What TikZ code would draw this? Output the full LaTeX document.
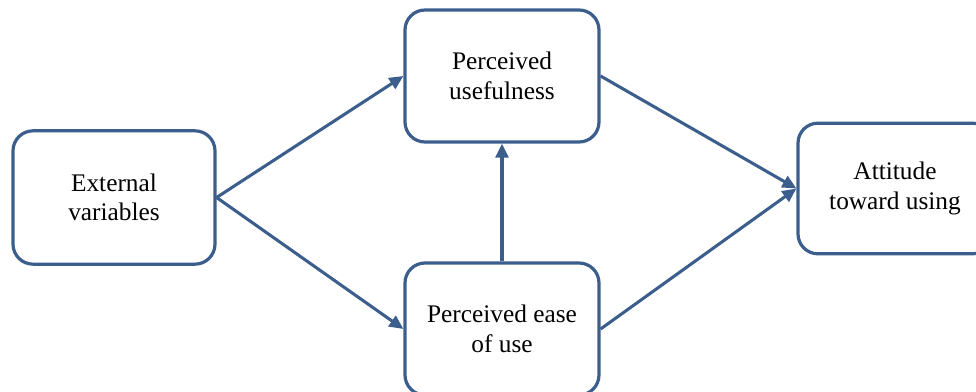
\documentclass[tikz,border=0pt]{standalone}
\usepackage{fontspec}
\setmainfont{Liberation Serif}
\usetikzlibrary{arrows.meta}
\definecolor{tamblue}{RGB}{59,94,140}
\begin{document}
\begin{tikzpicture}[x=0.75pt,y=-0.75pt,
  stage/.style={draw=tamblue, line width=2.4pt, rounded corners=15pt, fill=white,
    align=center, inner sep=0pt, font=\fontsize{19}{22}\selectfont,
    minimum width=145.5pt, minimum height=99pt},
  link/.style={draw=tamblue, line width=2.3pt,
    -{Triangle[length=10.5pt,width=9.5pt]}}]
  \useasboundingbox (0,0) rectangle (976,392);
  \node[stage, minimum width=151.5pt, minimum height=100pt] (ext) at (114,197.5) {External\\variables};
  \node[stage] (pu) at (502,76) {Perceived\\usefulness};
  \node[stage] (peou) at (502,329) {Perceived ease\\of use};
  \node[stage, minimum height=98pt] (att) at (895,188.5) {Attitude\\toward using};
  \draw[link] (ext.east) -- (pu.west);
  \draw[link] (ext.east) -- (peou.west);
  \draw[link] (peou.north) -- (pu.south);
  \draw[link] (pu.east) -- (att.west);
  \draw[link] (peou.east) -- (att.west);
\end{tikzpicture}
\end{document}
